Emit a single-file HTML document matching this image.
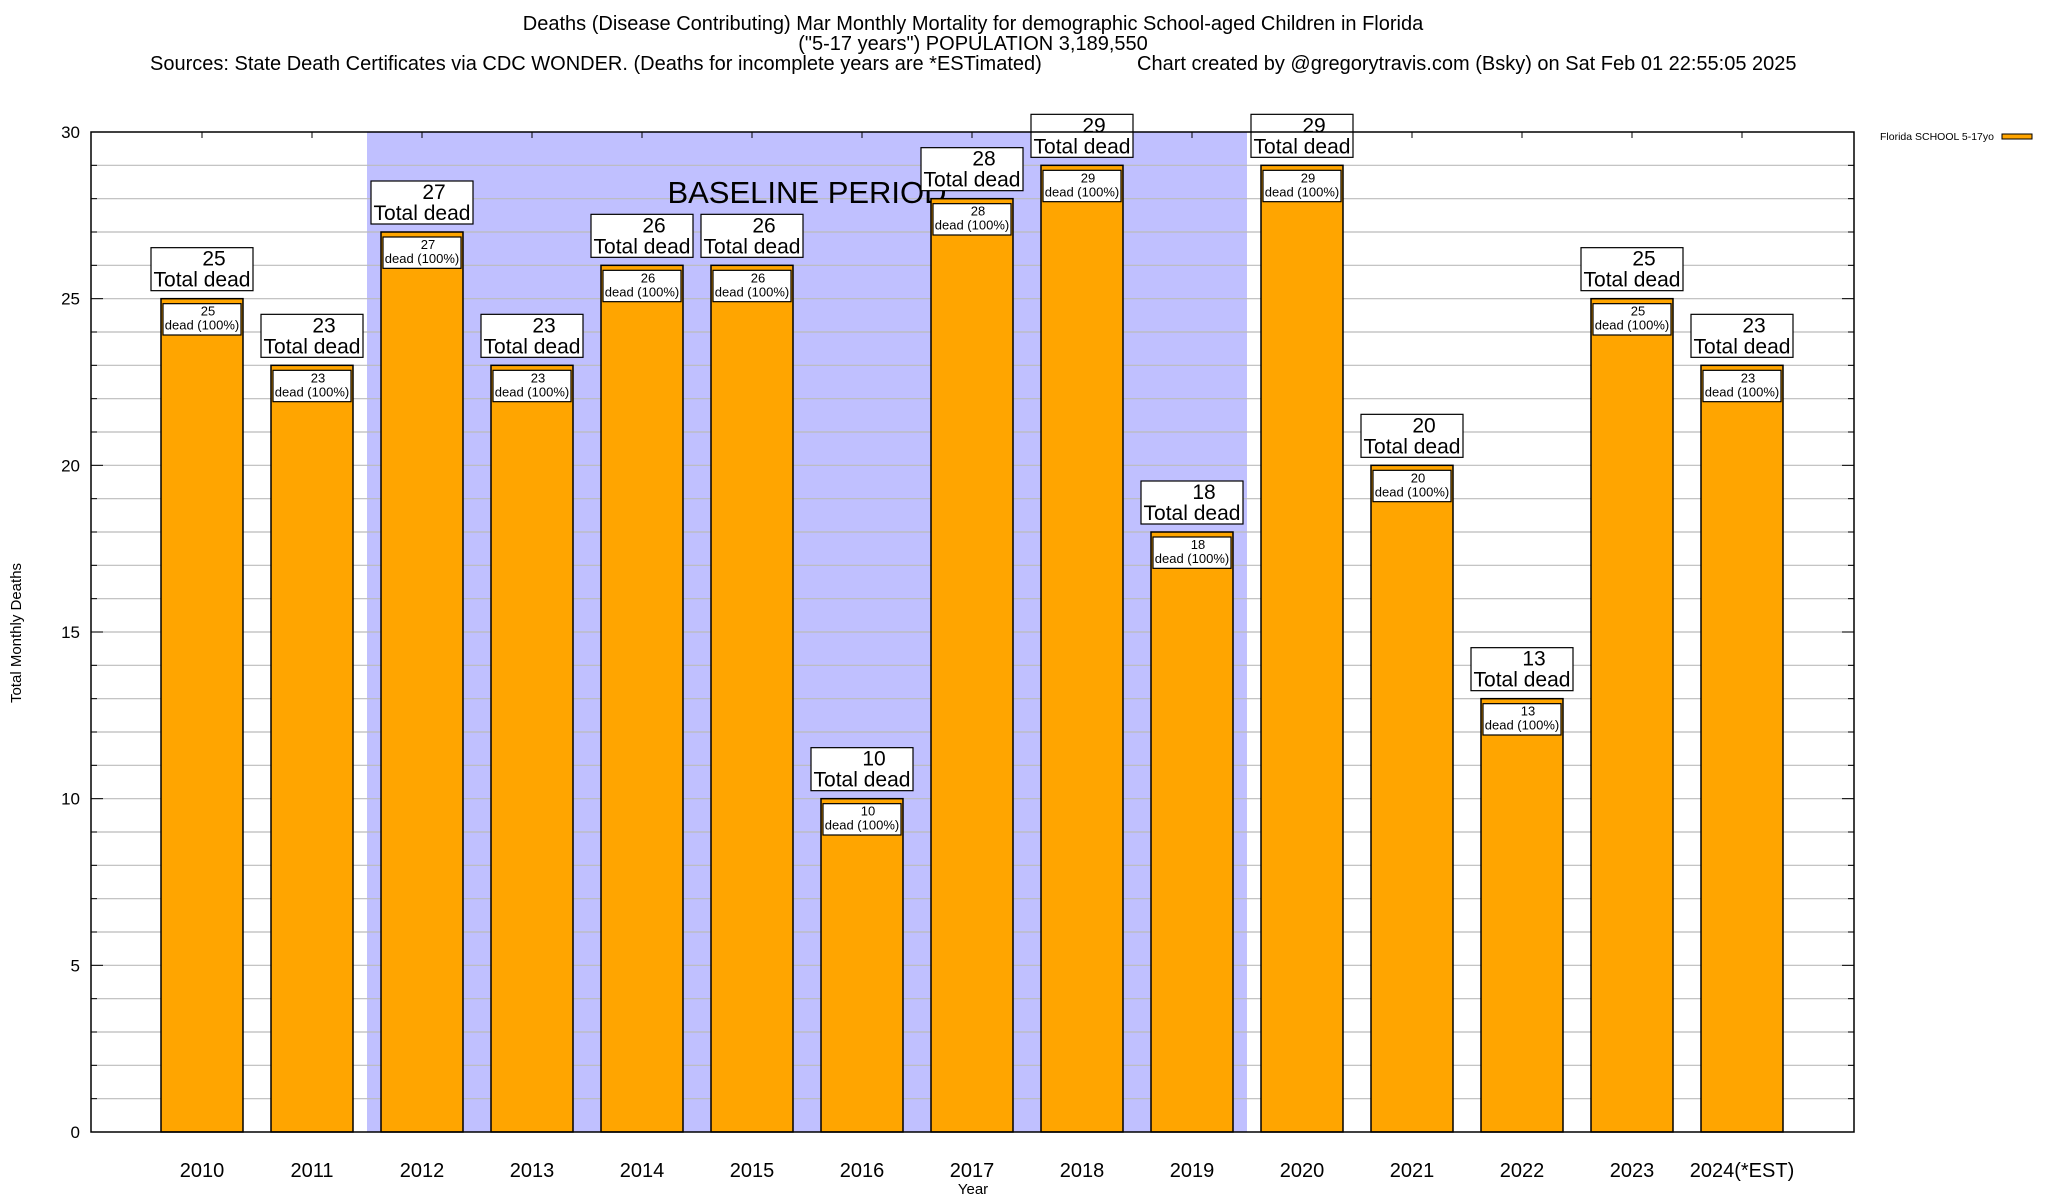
<!DOCTYPE html>
<html><head><meta charset="utf-8"><style>
html,body{margin:0;padding:0;background:#fff;}
svg{display:block;font-family:"Liberation Sans",sans-serif;}
</style></head><body>
<svg id="chart" width="2048" height="1200" viewBox="0 0 2048 1200">
<text x="973" y="30" text-anchor="middle" font-size="20">Deaths (Disease Contributing) Mar Monthly Mortality for demographic School-aged Children in Florida</text>
<text x="973" y="50" text-anchor="middle" font-size="20">("5-17 years") POPULATION 3,189,550</text>
<text x="150" y="70" font-size="20">Sources: State Death Certificates via CDC WONDER. (Deaths for incomplete years are *ESTimated)</text>
<text x="1137" y="70" font-size="20">Chart created by @gregorytravis.com (Bsky) on Sat Feb 01 22:55:05 2025</text>
<g id="plot"></g>
<text x="1880" y="140" font-size="10.5">Florida SCHOOL 5-17yo</text>
<rect x="2002" y="134" width="30" height="5" fill="#ffa500" stroke="#000" stroke-width="1"/>
<text x="973" y="1194" text-anchor="middle" font-size="15">Year</text>
<text transform="translate(21,633) rotate(-90)" text-anchor="middle" font-size="15">Total Monthly Deaths</text>
</svg>
<script>
const categories = ["2010","2011","2012","2013","2014","2015","2016","2017","2018","2019","2020","2021","2022","2023","2024(*EST)"];
const values = [25,23,27,23,26,26,10,28,29,18,29,20,13,25,23];
const yTicks = [0,5,10,15,20,25,30];
const baselineStart = 1.5, baselineEnd = 9.5;

const NS = "http://www.w3.org/2000/svg";
const L = 91, R = 1854, T = 132, B = 1132;
const yMax = 30;
const y = v => B - (v / yMax) * (B - T);
const x = i => 202 + 110 * i;
const g = document.getElementById('plot');
function el(tag, attrs, text) {
  const e = document.createElementNS(NS, tag);
  for (const k in attrs) e.setAttribute(k, attrs[k]);
  if (text !== undefined) e.textContent = text;
  g.appendChild(e);
  return e;
}
let e;
e = el('rect', {x: L, y: T, width: R - L, height: B - T, fill: '#fff'});


e = el('rect', {x: x(baselineStart), y: T, width: x(baselineEnd) - x(baselineStart), height: B - T, fill: '#c0c0ff'});


for (let v = 1; v < yMax; v++) {
  e = el('line', {x1: L, x2: R, y1: y(v), y2: y(v), stroke: '#bbb', 'stroke-width': 1.2});
  
  
  const len = v % 5 === 0 ? 12 : 6;
  el('line', {x1: L, x2: L + len, y1: y(v), y2: y(v), stroke: '#000', 'stroke-width': 1});
  el('line', {x1: R - len, x2: R, y1: y(v), y2: y(v), stroke: '#000', 'stroke-width': 1});
}
e = el('text', {x: 807, y: 203, 'text-anchor': 'middle', 'font-size': 31}, 'BASELINE PERIOD');


yTicks.forEach(t => {
  e = el('text', {x: 80, y: y(t) + 6, 'text-anchor': 'end', 'font-size': 17}, String(t));
  
  
});
categories.forEach((c, i) => {
  const v = values[i], cx = x(i), w = 82;
  el('line', {x1: cx, x2: cx, y1: T, y2: T + 6, stroke: '#000', 'stroke-width': 1});
  e = el('rect', {x: cx - w / 2, y: y(v), width: w, height: B - y(v), fill: '#ffa500', stroke: '#000', 'stroke-width': 1.5});
  
  
  e = el('rect', {x: cx - w / 2 + 2, y: y(v) + 5, width: w - 4, height: y(v - 1) - y(v) - 2, fill: '#fff', stroke: '#000', 'stroke-width': 1.2});
  
  
  e = el('text', {x: cx + 6, y: y(v) + 17, 'text-anchor': 'middle', 'font-size': 13}, String(v));
  
  
  e = el('text', {x: cx, y: y(v) + 31, 'text-anchor': 'middle', 'font-size': 13}, 'dead (100%)');
  
  
  e = el('rect', {x: cx - 51, y: y(v) - 51, width: 102, height: 43, fill: '#fff', stroke: '#000', 'stroke-width': 1.2});
  
  
  e = el('text', {x: cx + 12, y: y(v) - 33, 'text-anchor': 'middle', 'font-size': 21}, String(v));
  
  
  e = el('text', {x: cx, y: y(v) - 12, 'text-anchor': 'middle', 'font-size': 21}, 'Total dead');
  
  
  e = el('text', {x: cx, y: 1177, 'text-anchor': 'middle', 'font-size': 20}, c);
  
  
});
e = el('rect', {x: L, y: T, width: R - L, height: B - T, fill: 'none', stroke: '#000', 'stroke-width': 1.5});


</script>
</body></html>
